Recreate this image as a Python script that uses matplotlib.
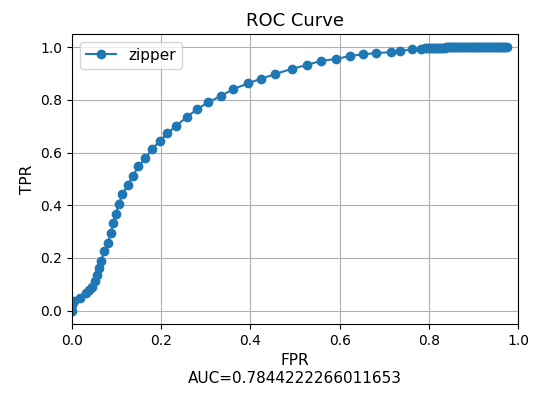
import matplotlib.pyplot as plt

# ROC points
fpr = [0.0, 0.0, 0.005, 0.019, 0.031, 0.039, 0.046, 0.052, 0.057, 0.061,
       0.066, 0.072, 0.080, 0.087, 0.092, 0.098, 0.105, 0.113, 0.125, 0.137,
       0.149, 0.164, 0.180, 0.197, 0.214, 0.234, 0.257, 0.280, 0.305, 0.335,
       0.361, 0.394, 0.424, 0.456, 0.492, 0.526, 0.557, 0.591, 0.624, 0.653,
       0.682, 0.714, 0.736, 0.761, 0.783,
       0.792, 0.796, 0.800, 0.803, 0.807, 0.810, 0.814, 0.817, 0.821, 0.824,
       0.828, 0.831, 0.835, 0.838, 0.842, 0.845, 0.849, 0.852, 0.856, 0.859,
       0.863, 0.866, 0.870, 0.873, 0.877, 0.880, 0.884, 0.887, 0.891, 0.894,
       0.898, 0.901, 0.905, 0.908, 0.912, 0.915, 0.919, 0.922, 0.926, 0.929,
       0.933, 0.936, 0.940, 0.943, 0.947, 0.950, 0.954, 0.957, 0.961, 0.964,
       0.968, 0.971, 0.975]
tpr = [0.0, 0.02, 0.035, 0.048, 0.067, 0.078, 0.090, 0.111, 0.136, 0.162,
       0.190, 0.225, 0.256, 0.294, 0.332, 0.366, 0.404, 0.442, 0.477, 0.512,
       0.548, 0.578, 0.614, 0.644, 0.673, 0.702, 0.734, 0.764, 0.790, 0.816,
       0.840, 0.862, 0.880, 0.898, 0.917, 0.932, 0.947, 0.955, 0.966, 0.973,
       0.977, 0.981, 0.985, 0.992, 0.994,
       0.995, 0.996, 0.996, 0.996, 0.997, 0.997, 0.997, 0.997, 0.998, 0.998,
       0.998, 0.998, 0.998, 0.999, 0.999, 0.999, 0.999, 0.999, 0.999, 0.999,
       1.0, 1.0, 1.0, 1.0, 1.0, 1.0, 1.0, 1.0, 1.0, 1.0,
       1.0, 1.0, 1.0, 1.0, 1.0, 1.0, 1.0, 1.0, 1.0, 1.0,
       1.0, 1.0, 1.0, 1.0, 1.0, 1.0, 1.0, 1.0, 1.0, 1.0,
       1.0, 1.0, 1.0]
auc = 0.7844222266011653

fig = plt.figure(figsize=(5.37, 3.94), dpi=100)
ax = fig.add_axes([0.134, 0.178, 0.831, 0.736])
ax.plot(fpr, tpr, marker='o', label='zipper')
ax.set_xlim(0, 1)
ax.set_title('ROC Curve', fontsize=13)
ax.set_xlabel('FPR\nAUC=' + str(auc), fontsize=11)
ax.set_ylabel('TPR', fontsize=11)
ax.grid(True)
ax.legend(loc='upper left', fontsize=11)
plt.savefig('out.png')
